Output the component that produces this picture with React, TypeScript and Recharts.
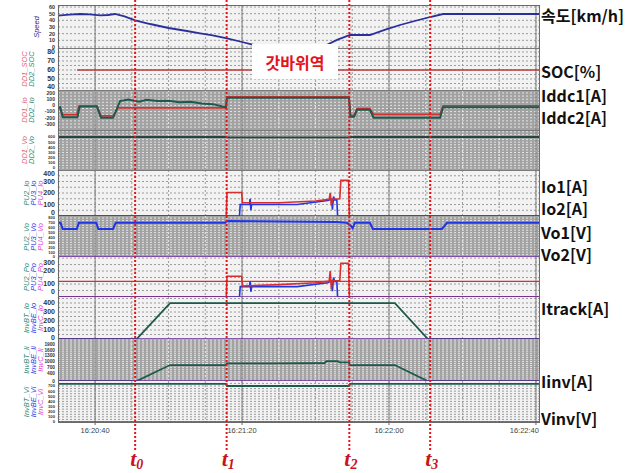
import React from "react";
import { LineChart, Line, XAxis, YAxis, CartesianGrid, ReferenceLine } from "recharts";

// time in seconds after 16:20:00
const T_START = 29.9;
const T_END = 161.1;
const TIME_TICKS = [40, 80, 120, 160];
const GRID_TIMES = [30, 35, 40, 45, 50, 55, 60, 65, 70, 75, 80, 85, 90, 95, 100, 105, 110, 115, 120, 125, 130, 135, 140, 145, 150, 155, 160];

const EVENT_TIMES = [50.9, 75.8, 109.2, 131.2];
const EVENT_SUBS = ["0", "1", "2", "3"];

type Pt = [number, number];

const SPEED: Pt[] = [
  [29.9, 47], [33, 48.5], [35.9, 49.5], [38.5, 49], [41.4, 47.5], [43.5, 48], [45.4, 49.5], [48, 46],
  [50.9, 40], [55, 34.5], [60, 28.5], [65, 24], [68.6, 20.5], [72, 17.5], [75.9, 13], [80, 7.5],
  [85.4, 0], [101.2, 0], [103, 3], [106, 11], [109.4, 18], [114.8, 18], [119, 26], [123, 33],
  [127, 39], [131.2, 45], [134.7, 49.5], [161.1, 49.5],
];

const DD1_SOC: Pt[] = [[35.1, 60], [161.1, 60]];

const DD1_IO: Pt[] = [
  [29.9, -50], [30.5, -50], [31.2, -150], [35, -150], [35.6, -10], [40.5, -10], [41.6, -170], [44.9, -170],
  [46.3, -40], [75.6, -40], [75.9, 140], [109.1, 140], [109.5, -160], [110.5, -160], [111.3, -50],
  [114.8, -50], [115.8, -145], [133.9, -145], [134.7, -5], [161.1, -5],
];
const DD2_IO: Pt[] = [
  [29.9, -30], [30.5, -30], [31.2, -190], [35.2, -190], [35.8, -20], [40.5, -20], [41.6, -200], [44.9, -200],
  [46.8, 70], [49, 95], [52, 60], [54, 90], [57, 70], [60, 75], [63, 50], [66, 60], [69, 30], [72, 20],
  [75.6, -30], [75.9, 125], [109.1, 125], [109.5, -185], [110.5, -185], [111.3, -70], [114.8, -70],
  [115.8, -200], [133.9, -200], [134.7, -30], [161.1, -30],
];

const DD_VO: Pt[] = [[29.9, 600], [75.6, 600], [76, 592], [109.2, 592], [109.6, 600], [161.1, 600]];

const PU_IO_RED: Pt[] = [
  [29.9, 0], [75.7, 0], [75.9, 205], [79.9, 205], [80.1, 115], [90, 115], [100, 130], [103.7, 145],
  [104, 200], [104.3, 90], [104.6, 145], [106.6, 150], [106.9, 310], [109, 310], [109.2, 0], [161.1, 0],
];
const PU_IO_BLUE: Pt[] = [
  [29.9, 0], [79.3, 0], [79.5, 100], [82, 100], [82.2, 150], [82.4, 50], [82.6, 100], [95, 100],
  [103.3, 135], [104.4, 145], [104.6, 55], [104.9, 170], [105.2, 140], [105.8, 140], [106, 0], [161.1, 0],
];

const PU_VO: Pt[] = [
  [29.9, 700], [30.6, 700], [31.2, 575], [35, 575], [35.6, 700], [40.3, 700], [40.9, 575], [44.9, 575],
  [45.6, 700], [75.4, 700], [75.9, 740], [105.9, 720], [108.6, 700], [109.6, 640], [110.1, 590],
  [110.7, 700], [114.8, 700], [115.6, 575], [134.4, 575], [135.8, 700], [161.1, 700],
];

const PU_PO_RED: Pt[] = [
  [29.9, 0], [75.7, 0], [75.9, 160], [79.9, 160], [80.1, 85], [90, 95], [100, 110], [103.7, 122],
  [104, 200], [104.3, 60], [104.6, 125], [106.6, 125], [106.9, 260], [109, 260], [109.2, 0], [161.1, 0],
];
const PU_PO_BLUE: Pt[] = [
  [29.9, 0], [79.3, 0], [79.5, 80], [82, 80], [82.2, 120], [82.4, 40], [82.6, 80], [95, 80],
  [103.3, 110], [104.4, 125], [104.6, 45], [104.9, 150], [105.2, 120], [105.8, 118], [106, 0], [161.1, 0],
];
const PU_PO_LIMIT = 120;

const ITRACK: Pt[] = [[29.9, 0], [51.3, 0], [60.4, 400], [121.6, 400], [130.6, 0], [161.1, 0]];

const IINV: Pt[] = [
  [29.9, 0], [51.3, 0], [60.4, 820], [75.6, 820], [75.9, 905], [90, 910], [102.5, 925], [103, 1025],
  [106, 1025], [106.5, 960], [109.1, 960], [109.4, 820], [121.6, 820], [130.5, 0], [161.1, 0],
];

const VINV: Pt[] = [[29.9, 740], [75.6, 740], [75.9, 700], [109.1, 700], [109.4, 740], [161.1, 740]];

const ZERO: Pt[] = [[T_START, 0], [T_END, 0]];

const RIGHT_LABELS: [string, number][] = [
  ["속도[km/h]", 15], ["SOC[%]", 71], ["Iddc1[A]", 95], ["Iddc2[A]", 117], ["Io1[A]", 186], ["Io2[A]", 208],
  ["Vo1[V]", 232], ["Vo2[V]", 254], ["Itrack[A]", 308], ["Iinv[A]", 381], ["Vinv[V]", 418],
];

const RED = "#d62f2f";
const BLUE = "#1f35e6";
const NAVY = "#2b2f9c";
const TEAL = "#1e5a4c";
const PURPLE = "#6b2fa0";
const PINK = "#e0607a";
const GREEN = "#2a8a72";
const MAG = "#e040d8";

interface Series { data: Pt[]; color: string; width?: number }
interface Panel {
  top: number; bottom: number; domain: [number, number]; ticks: number[]; gridStep: number;
  dark: boolean; series: Series[]; names: [string, string][]; baseline?: boolean; refY?: number;
}

const PANELS: Panel[] = [
  { top: 5, bottom: 48, domain: [-1.5, 63], ticks: [0, 10, 20, 30, 40, 50, 60], gridStep: 10, dark: false,
    series: [{ data: SPEED, color: NAVY, width: 1.8 }], names: [["Speed", NAVY]] },
  { top: 48, bottom: 90, domain: [37.8, 84.4], ticks: [40, 50, 60, 70, 80], gridStep: 5, dark: false,
    series: [{ data: DD1_SOC, color: "#b83a3a", width: 1.6 }], names: [["DD1_SOC", PINK], ["DD2_SOC", GREEN]] },
  { top: 90, bottom: 130, domain: [-397, 248], ticks: [-300, -200, -100, 0, 100, 200], gridStep: 50, dark: true,
    series: [{ data: DD1_IO, color: RED }, { data: DD2_IO, color: TEAL, width: 2 }], names: [["DD1_Io", PINK], ["DD2_Io", GREEN]] },
  { top: 130, bottom: 170, domain: [-39, 735], ticks: [0, 100, 200, 300, 400, 500, 600], gridStep: 50, dark: true,
    series: [{ data: DD_VO, color: "#26443f", width: 1.8 }], names: [["DD1_Vo", PINK], ["DD2_Vo", GREEN]] },
  { top: 170, bottom: 216, domain: [0, 400], ticks: [0, 100, 200, 300, 400], gridStep: 50, dark: false, baseline: true,
    series: [{ data: PU_IO_BLUE, color: BLUE }, { data: PU_IO_RED, color: RED }], names: [["PU2_Io", GREEN], ["PU3_Io", BLUE], ["PU4_Io", MAG]] },
  { top: 216, bottom: 257, domain: [0, 841], ticks: [0, 100, 200, 300, 400, 500, 600, 700, 800], gridStep: 50, dark: true, baseline: true,
    series: [{ data: PU_VO, color: BLUE, width: 2 }], names: [["PU2_Vo", GREEN], ["PU3_Vo", BLUE], ["PU4_Vo", MAG]] },
  { top: 257, bottom: 297, domain: [0, 308], ticks: [0, 100, 200, 300], gridStep: 50, dark: false, baseline: true, refY: PU_PO_LIMIT,
    series: [{ data: PU_PO_BLUE, color: BLUE }, { data: PU_PO_RED, color: RED }], names: [["PU2_Po", GREEN], ["PU3_Po", BLUE], ["PU4_Po", MAG]] },
  { top: 297, bottom: 339, domain: [0, 467], ticks: [0, 100, 200, 300, 400], gridStep: 50, dark: false, baseline: true,
    series: [{ data: ITRACK, color: TEAL, width: 1.8 }], names: [["InvBT_Io", GREEN], ["InvBE_Io", BLUE], ["InvC_Io", MAG]] },
  { top: 339, bottom: 381, domain: [0, 2157], ticks: [0, 400, 700, 1000, 1300, 1600, 1900], gridStep: 100, dark: true, baseline: true,
    series: [{ data: IINV, color: TEAL, width: 1.8 }], names: [["InvBT_Ii", GREEN], ["InvBE_Ii", BLUE], ["InvC_Ii", MAG]] },
  { top: 381, bottom: 422, domain: [0, 797], ticks: [0, 100, 200, 300, 400, 500, 600, 700], gridStep: 50, dark: false, baseline: true,
    series: [{ data: VINV, color: TEAL, width: 1.8 }], names: [["InvBT_Vi", GREEN], ["InvBE_Vi", BLUE], ["InvC_Vi", MAG]] },
];

const toRows = (pts: Pt[]) => pts.map(([t, v]) => ({ t, v }));

const fmtTime = (t: number) => {
  const m = 20 + Math.floor(t / 60);
  const s = Math.round(t % 60);
  return `16:${m}:${s < 10 ? "0" + s : s}`;
};

const COLS: Record<number, number[]> = { 1: [37], 2: [25, 32], 3: [27, 34, 41] };
const PAD = 6;

// edge labels are nudged inward when the tick spacing leaves room for it
function makeTick(plotTop: number, plotBottom: number, fs: number, gap: number) {
  const shift = Math.max(0, Math.min(5, gap - fs - 1));
  return function Tick(props: any) {
    const { x, y, payload } = props;
    let dy = fs * 0.35;
    if (y - plotTop < 3) dy += shift;
    if (plotBottom - y < 3) dy -= shift;
    return (
      <text
        x={x}
        y={y}
        dy={dy}
        textAnchor="end"
        fontSize={fs}
        fill="#333"
        fontWeight={700}
        fontFamily="Liberation Sans Narrow, Liberation Sans"
      >
        {payload.value}
      </text>
    );
  };
}

// the last time label sits against the right edge of the plot
function TimeTick(props: any) {
  const { x, y, payload } = props;
  const isLast = payload.value === TIME_TICKS[TIME_TICKS.length - 1];
  return (
    <text
      x={isLast ? x + 3 : x}
      y={y}
      dy={7}
      textAnchor={isLast ? "end" : "middle"}
      fontSize={7.5}
      fill="#444"
      fontFamily="Liberation Sans"
    >
      {fmtTime(payload.value)}
    </text>
  );
}

function PanelChart({ p, last }: { p: Panel; last: boolean }) {
  const axisH = last ? 14 : 0;
  const bandH = p.bottom - p.top;
  const h = bandH + PAD * 2 + axisH;
  const grid: number[] = [];
  for (let v = Math.ceil(p.domain[0] / p.gridStep) * p.gridStep; v <= p.domain[1]; v += p.gridStep) grid.push(v);
  // font size follows the pixel spacing of the tick labels
  const pxPerUnit = bandH / (p.domain[1] - p.domain[0]);
  let minGap = Infinity;
  for (let i = 1; i < p.ticks.length; i++) minGap = Math.min(minGap, (p.ticks[i] - p.ticks[i - 1]) * pxPerUnit);
  const fs = Math.max(4, Math.min(7, minGap * 0.82));
  return (
    <div style={{ position: "absolute", left: 0, top: p.top - PAD }}>
      <LineChart width={643} height={h} margin={{ top: PAD, right: 103, bottom: PAD, left: 34 }}>
        <CartesianGrid
          horizontalValues={grid}
          verticalValues={GRID_TIMES}
          fill={p.dark ? "#a2a2a2" : "#f2f2f2"}
          stroke={p.dark ? "#e4e4e4" : "#9c9c9c"}
          strokeDasharray="2 2"
        />
        <XAxis
          dataKey="t"
          type="number"
          domain={[T_START, T_END]}
          ticks={TIME_TICKS}
          hide={!last}
          height={axisH}
          axisLine={false}
          tickSize={3}
          tickMargin={1}
          tick={<TimeTick />}
        />
        <YAxis
          type="number"
          domain={p.domain}
          ticks={p.ticks}
          interval={0}
          width={24}
          axisLine={false}
          tickLine={false}
          tickSize={2}
          tickMargin={1}
          tick={makeTick(PAD, PAD + bandH, fs, minGap)}
        />
        {TIME_TICKS.map((t) => (
          <ReferenceLine key={t} x={t} stroke="#808080" strokeWidth={1} />
        ))}
        {p.refY !== undefined && <ReferenceLine y={p.refY} stroke={RED} strokeWidth={1.2} />}
        {p.series.map((s, i) => (
          <Line
            key={i}
            data={toRows(s.data)}
            dataKey="v"
            stroke={s.color}
            strokeWidth={s.width ?? 1.6}
            dot={false}
            activeDot={false}
            isAnimationActive={false}
          />
        ))}
        {p.baseline && (
          <Line data={toRows(ZERO)} dataKey="v" stroke={PURPLE} strokeWidth={1.6} dot={false} activeDot={false} isAnimationActive={false} />
        )}
      </LineChart>
    </div>
  );
}

function EventLabel(props: any) {
  const vb = props.viewBox || {};
  const x = vb.x ?? 0;
  const y = (vb.y ?? 0) + (vb.height ?? 0);
  return (
    <text
      x={x - 5}
      y={y + 16}
      fill="#c8141c"
      fontFamily="Liberation Serif, DejaVu Serif, serif"
      fontStyle="italic"
      fontWeight="bold"
      fontSize={22}
    >
      t
      <tspan fontSize={14} dy={3}>
        {props.sub}
      </tspan>
    </text>
  );
}

export default function App() {
  const eventRows = EVENT_TIMES.map((t) => ({ t, v: 0.5 }));
  return (
    <div
      style={{
        position: "absolute",
        left: 0,
        top: 0,
        width: 643,
        height: 473,
        background: "#fff",
        overflow: "hidden",
        fontFamily: "Liberation Sans, Arial, sans-serif",
      }}
    >
      {PANELS.map((p, i) => (
        <PanelChart key={i} p={p} last={i === PANELS.length - 1} />
      ))}

      {/* separators between panels that have no purple baseline */}
      {PANELS.map((p, i) =>
        i > 0 && !PANELS[i - 1].baseline ? (
          <div key={"sep" + i} style={{ position: "absolute", left: 58, top: p.top, width: 482, height: 1, background: "#7a7a7a" }} />
        ) : null
      )}

      <div
        style={{
          position: "absolute",
          left: 58,
          top: 5,
          width: 482,
          height: 418,
          border: "1px solid #6a6a6a",
          boxSizing: "border-box",
        }}
      />

      {/* series names on the left */}
      {PANELS.map((p, i) =>
        p.names.map(([name, color], j) => (
          <div
            key={"n" + i + "-" + j}
            style={{
              position: "absolute",
              left: COLS[p.names.length][j],
              top: (p.top + p.bottom) / 2,
              transform: "translate(-50%, -50%) rotate(-90deg)",
              fontSize: 7.5,
              fontStyle: "italic",
              color,
              whiteSpace: "nowrap",
              lineHeight: 1,
              fontFamily: "Liberation Sans Narrow, Liberation Sans",
            }}
          >
            {name}
          </div>
        ))
      )}

      <div
        style={{
          position: "absolute",
          left: 252,
          top: 44,
          width: 86,
          height: 35,
          background: "#fff",
          color: "#e3141c",
          fontFamily: "Noto Sans CJK KR",
          fontWeight: 700,
          fontSize: 16,
          display: "flex",
          alignItems: "center",
          justifyContent: "center",
        }}
      >
        갓바위역
      </div>

      {/* event markers t0..t3 */}
      <div style={{ position: "absolute", left: 0, top: 0, pointerEvents: "none" }}>
        <LineChart width={643} height={473} margin={{ top: 0, right: 103, bottom: 23, left: 58 }} data={eventRows}>
          <XAxis dataKey="t" type="number" domain={[T_START, T_END]} hide />
          <YAxis dataKey="v" type="number" hide domain={[0, 1]} />
          <Line dataKey="v" stroke="transparent" strokeWidth={0} dot={false} activeDot={false} isAnimationActive={false} />
          {EVENT_TIMES.map((t, i) => (
            <ReferenceLine
              key={i}
              x={t}
              stroke="#e8141c"
              strokeWidth={2}
              strokeDasharray="2 2"
              label={<EventLabel sub={EVENT_SUBS[i]} />}
            />
          ))}
        </LineChart>
      </div>

      {RIGHT_LABELS.map(([txt, y]) => (
        <div
          key={txt}
          style={{
            position: "absolute",
            left: 541,
            top: y,
            transform: "translateY(-50%)",
            fontFamily: "Noto Sans CJK KR",
            fontWeight: 700,
            fontSize: 16,
            lineHeight: 1,
            color: "#111",
            whiteSpace: "nowrap",
          }}
        >
          {txt}
        </div>
      ))}
    </div>
  );
}
